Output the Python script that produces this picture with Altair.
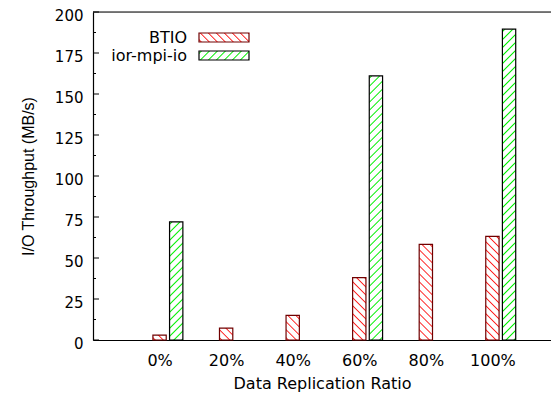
import altair as alt
import pandas as pd

# ---- data ----
categories = ["0%", "20%", "40%", "60%", "80%", "100%"]
btio = [3, 7.3, 15, 38, 58.3, 63.2]
ior_mpi_io = [72, None, None, 161, None, 189.5]
series_names = ["BTIO", "ior-mpi-io"]
y_major_ticks = [0, 25, 50, 75, 100, 125, 150, 175, 200]
y_minor_ticks = [12.5, 37.5, 62.5, 87.5, 112.5, 137.5, 162.5, 187.5]

# ---- layout / style ----
W, H = 458, 328
X_DOMAIN = [-1, 5.88]
PX_PER_UNIT = W / (X_DOMAIN[1] - X_DOMAIN[0])
BAR_HALF = 0.1
GREEN_OFFSET = 0.25
PERIOD = 8.0
RED = "#ff1a1a"
RED_EDGE = "#700000"
GREEN = "#00f000"
FONT_H = "DejaVu Sans"


def hatch(w, h, color, down, period=PERIOD, stripe=2.6):
    """Diagonal soft-line gradient (bbox units) for a w x h pixel box."""
    L = w + h
    k = L / (w * w + h * h)
    stops = [{"offset": 0, "color": "white"}]
    j = 0
    while j * period + stripe < L:
        a = (j * period + 1.0) / L
        m = (j * period + 1.0 + stripe / 2) / L
        b = (j * period + 1.0 + stripe) / L
        stops += [
            {"offset": round(a, 6), "color": "white"},
            {"offset": round(m, 6), "color": color},
            {"offset": round(b, 6), "color": "white"},
        ]
        j += 1
    stops.append({"offset": 1, "color": "white"})
    if down:  # lines running top-left to bottom-right
        g = {"x1": 0, "y1": 1, "x2": round(k * w, 6), "y2": round(1 - k * h, 6)}
    else:     # lines running bottom-left to top-right
        g = {"x1": 0, "y1": 0, "x2": round(k * w, 6), "y2": round(k * h, 6)}
    g.update({"gradient": "linear", "stops": stops})
    return g


x_scale = alt.Scale(domain=X_DOMAIN, nice=False, zero=False)
y_scale = alt.Scale(domain=[0, 200], nice=False)

label_expr = "[" + ",".join("'%s'" % c for c in categories) + "][datum.value]"

layers = []

# base layer carrying the axes
axis_df = pd.DataFrame({"x": list(range(len(categories))), "y": [0] * len(categories)})
base = alt.Chart(axis_df).mark_point(opacity=0).encode(
    x=alt.X("x:Q", scale=x_scale,
            axis=alt.Axis(values=list(range(len(categories))), labelExpr=label_expr,
                          title="Data Replication Ratio", ticks=False, grid=False,
                          labelFont=FONT_H, labelFontSize=16, labelColor="black",
                          labelPadding=12, domainColor="black", domainWidth=1.2,
                          titleFont=FONT_H, titleFontSize=16, titleFontWeight="normal",
                          titleColor="black", titleBaseline="alphabetic", titleY=48)),
    y=alt.Y("y:Q", scale=y_scale,
            axis=alt.Axis(values=y_major_ticks, title="I/O Throughput (MB/s)", ticks=False,
                          grid=False, labelFont=FONT_H, labelFontSize=15, labelColor="black",
                          labelPadding=10, labelOffset=3, domainColor="black", domainWidth=1.2,
                          titleFont="Liberation Sans", titleFontSize=16,
                          titleFontWeight="normal", titleColor="black",
                          titleBaseline="middle", titleX=-65)),
)
layers.append(base)

# bars, one layer each so every bar gets its own hatch
bar_w_px = 2 * BAR_HALF * PX_PER_UNIT
for i, cat in enumerate(categories):
    for s, vals in enumerate([btio, ior_mpi_io]):
        v = vals[i]
        if v is None:
            continue
        center = i + (GREEN_OFFSET if s == 1 else 0)
        df = pd.DataFrame({"cat": [cat], "series": [series_names[s]], "x": [center - BAR_HALF],
                           "x2": [center + BAR_HALF], "v": [v]})
        h_px = v * H / 200.0
        if s == 0:
            fill = hatch(bar_w_px, h_px, RED, True)
            stroke = RED_EDGE
        else:
            fill = hatch(bar_w_px, h_px, GREEN, False, stripe=2.8)
            stroke = "black"
        layers.append(
            alt.Chart(df).mark_bar(stroke=stroke, strokeWidth=1.2).encode(
                x=alt.X("x:Q", scale=x_scale), x2="x2:Q",
                y=alt.Y("v:Q", scale=y_scale), y2=alt.datum(0),
                fill=alt.value(fill),
            )
        )

# inward y ticks
maj = pd.DataFrame({"t": y_major_ticks})
mnr = pd.DataFrame({"t": y_minor_ticks})
layers.append(alt.Chart(maj).mark_rule(color="black", strokeWidth=1).encode(
    y=alt.Y("t:Q", scale=y_scale), x=alt.value(0), x2=alt.value(6)))
layers.append(alt.Chart(mnr).mark_rule(color="black", strokeWidth=1).encode(
    y=alt.Y("t:Q", scale=y_scale), x=alt.value(0), x2=alt.value(3)))

# top frame line
layers.append(alt.Chart(pd.DataFrame({"a": [0]})).mark_rule(color="black", strokeWidth=1.2).encode(
    y=alt.value(0), x=alt.value(0), x2=alt.value(W)))

# legend (gnuplot style: text right-aligned, then sample)
leg_y = [21, 39]
for s, name in enumerate(series_names):
    ldf = pd.DataFrame({"name": [name]})
    if s == 0:
        fill = hatch(50, 9, RED, True)
        stroke = RED_EDGE
    else:
        fill = hatch(50, 9, GREEN, False, stripe=2.8)
        stroke = "black"
    layers.append(alt.Chart(ldf).mark_rect(stroke=stroke, strokeWidth=1.2).encode(
        x=alt.value(106), x2=alt.value(156), y=alt.value(leg_y[s]), y2=alt.value(leg_y[s] + 9),
        fill=alt.value(fill)))
    layers.append(alt.Chart(ldf).mark_text(align="right", baseline="middle", font=FONT_H,
                                           fontSize=16, color="black").encode(
        text="name:N", x=alt.value(94), y=alt.value(leg_y[s] + 4.5)))

chart = alt.layer(*layers).properties(
    width=W, height=H,
    autosize=alt.AutoSizeParams(type="none"),
    padding={"left": 85, "top": 4, "right": 0, "bottom": 56},
).configure_view(stroke=None).configure(background="white")

chart.save("out.html", embed_options={"renderer": "svg", "actions": False})
